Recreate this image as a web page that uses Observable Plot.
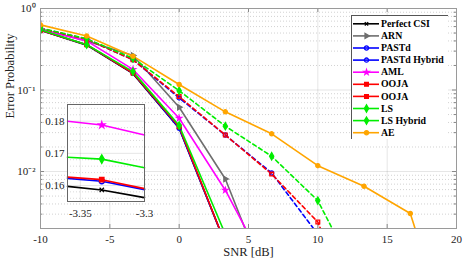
<!DOCTYPE html>
<html><head><meta charset="utf-8">
<script src="https://cdn.jsdelivr.net/npm/d3@7"></script>
<script src="https://cdn.jsdelivr.net/npm/@observablehq/plot@0.6"></script>
<style>
body{margin:0;background:#fff;}
#wrap{position:relative;width:463px;height:264px;}
#wrap > svg{position:absolute;}
#wrap svg, #wrap svg text{font-family:"Liberation Serif","Times New Roman",serif !important;}
</style></head><body>
<div id="wrap"></div>
<script>
// ---- data ----
const snr = [-10, -6.67, -3.33, 0, 3.33, 6.67, 10, 13.33, 16.67, 20];
const perfectCSI  = [0.54, 0.355, 0.1586, 0.034, 0.0013];
const arn         = [0.56, 0.40, 0.265, 0.0615, 0.0081, 0.0003];
const pastd       = [0.54, 0.36, 0.1613, 0.034, 0.0013];
const pastdHybrid = [0.57, 0.42, 0.235, 0.080, 0.028, 0.0096, 0.0017];
const aml         = [0.55, 0.40, 0.1788, 0.045, 0.0059, 0.0005];
const ooja        = [0.54, 0.36, 0.1618, 0.0355, 0.0013];
const oojaHybrid  = [0.57, 0.42, 0.235, 0.083, 0.028, 0.0093, 0.0024, 0.0001];
const ls          = [0.55, 0.36, 0.1682, 0.0367, 0.0017];
const lsHybrid    = [0.575, 0.425, 0.245, 0.098, 0.036, 0.0154, 0.0044, 0.00035];
const ae          = [0.63, 0.46, 0.26, 0.117, 0.054, 0.029, 0.0118, 0.0066, 0.00305, 0.00005];

// inset (zoom around -3.33 dB)
const insetSnr = [-3.36, -3.3333, -3.3];
const insetPerfectCSI = [0.1597, 0.1586, 0.1562];
const insetPastd      = [0.1622, 0.1613, 0.1587];
const insetOoja       = [0.1626, 0.1618, 0.1590];
const insetLs         = [0.1688, 0.1682, 0.1655];
const insetAml        = [0.1800, 0.1788, 0.1757];

const seriesNames = ["Perfect CSI","ARN","PASTd","PASTd Hybrid","AML","OOJA","OOJA","LS","LS Hybrid","AE"];
const seriesValues = [perfectCSI, arn, pastd, pastdHybrid, aml, ooja, oojaHybrid, ls, lsHybrid, ae];

const xTicks = [-10, -5, 0, 5, 10, 15, 20];
const yTicks = [1, 0.1, 0.01];
const yTickLabels = ["10\u2070", "10\u207B\u00B9", "10\u207B\u00B2"];
const insetXTicks = [-3.35, -3.3];
const insetXTickLabels = ["-3.35", "-3.3"];
const insetYTicks = [0.16, 0.17, 0.18];
const insetYTickLabels = ["0.16", "0.17", "0.18"];

// ---- styles ----
const styles = [
  {color:"#000000", dash:null, symbol:"times", fill:"none", r:1.7},
  {color:"#6e6e6e", dash:null, symbol:"triangle", rotate:90, fill:"#6e6e6e", r:1.9},
  {color:"#0000ff", dash:null, symbol:"circle", fill:"none", r:2.1},
  {color:"#0000ff", dash:"4,3", symbol:"circle", fill:"none", r:2.1},
  {color:"#ff00ff", dash:null, symbol:"star", fill:"#ff00ff", r:1.6},
  {color:"#ff0000", dash:null, symbol:"square", fill:"#ff0000", r:2.1},
  {color:"#ff0000", dash:"4,3", symbol:"square", fill:"none", r:2.1},
  {color:"#00ee00", dash:null, symbol:"diamond", fill:"#00ee00", r:2.2},
  {color:"#00ee00", dash:"4,3", symbol:"diamond", fill:"#00ee00", r:2.2},
  {color:"#ffa500", dash:null, symbol:"circle", fill:"#ffa500", r:2.1}
];

const rows = seriesValues.map((vals, i) => vals.map((v, j) => ({s: i, snr: snr[j], err: v})));

const FONT = "Liberation Serif, Times New Roman, serif";
const yMin = 0.002, yMax = 1;
const minorY = [];
for (let e = -3; e < 0; e++) for (let m = 2; m <= 9; m++) { const v = m * 10 ** e; if (v >= yMin && v <= yMax) minorY.push(v); }

const seriesMarks = [];
rows.forEach((r, i) => {
  const st = styles[i];
  seriesMarks.push(Plot.line(r, {x:"snr", y:"err", stroke: st.color, strokeWidth: 1.6, strokeDasharray: st.dash, clip: true}));
});
rows.forEach((r, i) => {
  const st = styles[i];
  seriesMarks.push(Plot.dot(r, {x:"snr", y:"err", symbol: () => st.symbol, r: st.r, rotate: st.rotate || 0,
    stroke: st.color, fill: st.fill, strokeWidth: 1.3, clip: true}));
});

const tickLen = 4;
const yFac = 10 ** (tickLen / 81.5);
const xTickLen = tickLen * 30 / 416;

const main = Plot.plot({
  width: 463, height: 264,
  marginLeft: 40, marginRight: 7, marginTop: 8, marginBottom: 36,
  style: {fontFamily: FONT, fontSize: "11px", background: "transparent"},
  x: {domain: [-10, 20]},
  y: {type: "log", domain: [yMin, yMax]},
  marks: [
    Plot.ruleY(minorY, {stroke: "#000", strokeOpacity: 0.18, strokeDasharray: "1,2"}),
    Plot.gridX(xTicks, {stroke: "#000", strokeOpacity: 0.1}),
    Plot.gridY(yTicks, {stroke: "#000", strokeOpacity: 0.1}),
    Plot.axisX(xTicks, {tickSize: 0, tickPadding: 7, fontSize: 11, fill: "#222", tickFormat: d => String(d), label: null}),
    Plot.axisY(yTicks, {tickSize: 0, tickPadding: 5, fontSize: 11, fill: "#222", tickFormat: d => yTickLabels[yTicks.indexOf(d)], label: null}),
    // inward ticks
    Plot.ruleX(xTicks, {y1: yMin, y2: yMin * yFac, stroke: "#888"}),
    Plot.ruleX(xTicks, {y1: yMax, y2: yMax / yFac, stroke: "#888"}),
    Plot.ruleY(yTicks.concat(minorY), {x1: -10, x2: d => -10 + (yTicks.includes(d) ? xTickLen : xTickLen * 0.6), stroke: "#888"}),
    Plot.ruleY(yTicks.concat(minorY), {x1: 20, x2: d => 20 - (yTicks.includes(d) ? xTickLen : xTickLen * 0.6), stroke: "#888"}),
    ...seriesMarks,
    Plot.frame({stroke: "#9a9a9a"}),
    Plot.text(["SNR [dB]"], {frameAnchor: "bottom", dy: 27, fontSize: 12.5, fill: "#222"}),
    Plot.text(["Error Probability"], {frameAnchor: "left", dx: -31, rotate: -90, fontSize: 12.5, fill: "#222"})
  ]
});
main.style.left = "0px"; main.style.top = "0px";
document.getElementById("wrap").appendChild(main);

// ---- inset ----
const insetSeries = [
  {vals: insetPerfectCSI, st: styles[0]},
  {vals: insetPastd, st: styles[2]},
  {vals: insetOoja, st: styles[5]},
  {vals: insetLs, st: styles[7]},
  {vals: insetAml, st: styles[4]}
];
const insetMinorY = d3.range(0.156, 0.185, 0.002).filter(v => !insetYTicks.some(t => Math.abs(t - v) < 1e-6));
const insetMarks = [];
insetSeries.forEach(o => {
  const r = o.vals.map((v, j) => ({snr: insetSnr[j], err: v}));
  insetMarks.push(Plot.line(r, {x: "snr", y: "err", stroke: o.st.color, strokeWidth: 1.6}));
  insetMarks.push(Plot.dot([r[1]], {x: "snr", y: "err", symbol: () => o.st.symbol, r: o.st.r + 0.4, stroke: o.st.color, fill: o.st.fill, strokeWidth: 1.3}));
});
const inset = Plot.plot({
  width: 112, height: 120,
  marginLeft: 32, marginRight: 3, marginTop: 3, marginBottom: 20,
  style: {fontFamily: FONT, fontSize: "11px", background: "transparent", overflow: "visible"},
  x: {domain: [-3.36, -3.3]},
  y: {domain: [0.155, 0.1852]},
  marks: [
    Plot.frame({fill: "white"}),
    Plot.ruleY(insetMinorY, {stroke: "#000", strokeOpacity: 0.15, strokeDasharray: "1,2"}),
    Plot.gridX(insetXTicks, {stroke: "#000", strokeOpacity: 0.1}),
    Plot.gridY(insetYTicks, {stroke: "#000", strokeOpacity: 0.1}),
    Plot.axisX(insetXTicks, {tickSize: 0, tickPadding: 8, fontSize: 11, fill: "#222", tickFormat: d => insetXTickLabels[insetXTicks.indexOf(d)], label: null}),
    Plot.axisY(insetYTicks, {tickSize: 0, tickPadding: 3, fontSize: 11, fill: "#222", tickFormat: d => insetYTickLabels[insetYTicks.indexOf(d)], label: null}),
    ...insetMarks,
    Plot.frame({stroke: "#666"})
  ]
});
inset.style.left = "35px"; inset.style.top = "101px";
document.getElementById("wrap").appendChild(inset);

// ---- legend ----
const legendRows = seriesNames.map((n, i) => ({i, name: n}));
const ly = d => 8.3 + d.i * 12.1;
const legend = Plot.plot({
  width: 97, height: 124, margin: 0,
  style: {fontFamily: FONT, background: "transparent"},
  x: {domain: [0, 97], range: [0, 97], axis: null},
  y: {domain: [0, 124], range: [0, 124], axis: null},
  marks: [
    Plot.frame({fill: "white", stroke: "#555"}),
    Plot.ruleY(legendRows, {y: ly, x1: 2, x2: 28, stroke: d => styles[d.i].color, strokeWidth: 1.6,
      strokeDasharray: d => styles[d.i].dash || "none"}),
    ...legendRows.map(d => Plot.dot([d], {x: 15, y: ly, symbol: () => styles[d.i].symbol, r: styles[d.i].r,
      rotate: styles[d.i].rotate || 0, stroke: styles[d.i].color, fill: d.i === 6 ? styles[d.i].color : styles[d.i].fill, strokeWidth: 1.3})),
    Plot.text(legendRows, {x: 29.5, y: ly, text: "name", textAnchor: "start", fontSize: 9.8, fontWeight: "bold", fill: "#000"})
  ]
});
legend.style.left = "351px"; legend.style.top = "15px";
document.getElementById("wrap").appendChild(legend);
</script>
</body></html>
